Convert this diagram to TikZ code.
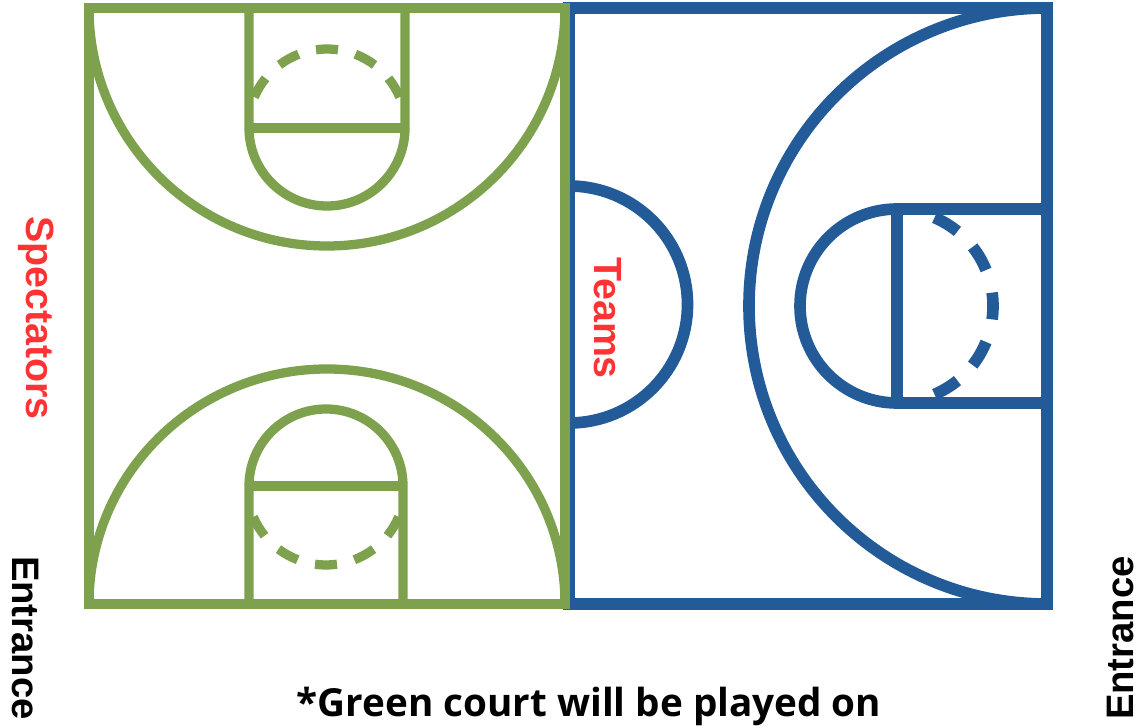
\documentclass[tikz,border=0pt]{standalone}
\usepackage{fontspec}
\usetikzlibrary{calc}
\setmainfont{Liberation Sans}
\newfontfamily\notefont{Open Sans}
\definecolor{courtgreen}{HTML}{7DA14C}
\definecolor{courtblue}{HTML}{225B97}
\definecolor{labelred}{HTML}{FF3333}
\begin{document}
\begin{tikzpicture}[
    x=0.02cm, y=0.02cm,
    greenline/.style={draw=courtgreen, line width=9.3*0.567pt},
    blueline/.style={draw=courtblue, line width=11.7*0.567pt},
    outline/.style={line width=10.5*0.567pt},
    crowd/.style={text=labelred, font=\fontsize{22.4}{22.4}\selectfont\bfseries},
    door/.style={text=black, font=\fontsize{21.8}{21.8}\selectfont\bfseries},
  ]
    \useasboundingbox (0,0) rectangle (1138,727);
    % blue court
    \draw[blueline] (569,719) rectangle (1047,123);
    \draw[blueline] (1047,719) arc (90:270:298);
    \draw[blueline] (1047,518) -- (897,518) arc (90:270:97) -- (1047,324);
    \draw[blueline] (897,518) -- (897,324);
    \draw[blueline] (569,541) arc (90:-90:118.5);
    \foreach \ang in {0,30,-30,59,-59}
      \draw[blueline] ($(897,421)+(\ang-8:96)$) arc (\ang-8:\ang+8:96);
    % green court
    \draw[greenline, outline] (89,719) -- (89,123) -- (565,123) -- (565,719) -- cycle;
    \draw[greenline] (89,719) arc (180:360:238);
    \draw[greenline] (89,123) arc [start angle=180, end angle=0, x radius=238, y radius=235];
    \draw[greenline] (249,719) -- (249,599) arc (180:360:78) -- (405,719);
    \draw[greenline] (249,599) -- (405,599);
    \draw[greenline] (249,123) -- (249,241) arc (180:0:77) -- (403,123);
    \draw[greenline] (249,241) -- (403,241);
    \foreach \ang in {90,61,119,31,149} {
      \draw[greenline] ($(327,599)+(\ang-8:79)$) arc (\ang-8:\ang+8:79);
      \draw[greenline] ($(326,241)+(-\ang-8:79)$) arc (-\ang-8:-\ang+8:79);
    }
    % labels
    \node[crowd, rotate=-90] (spectators) at (36,409) {Spectators};
    \node[crowd, rotate=-90] (teams) at (608,409) {Teams};
    \node[door, rotate=-90] (doorleft) at (25,89) {Entrance};
    \node[door, rotate=90] (doorright) at (1120,89) {Entrance};
    \node[font=\notefont\fontsize{22}{22}\selectfont\bfseries] (note) at (589,21) {*Green court will be played on};
  \end{tikzpicture}
\end{document}
